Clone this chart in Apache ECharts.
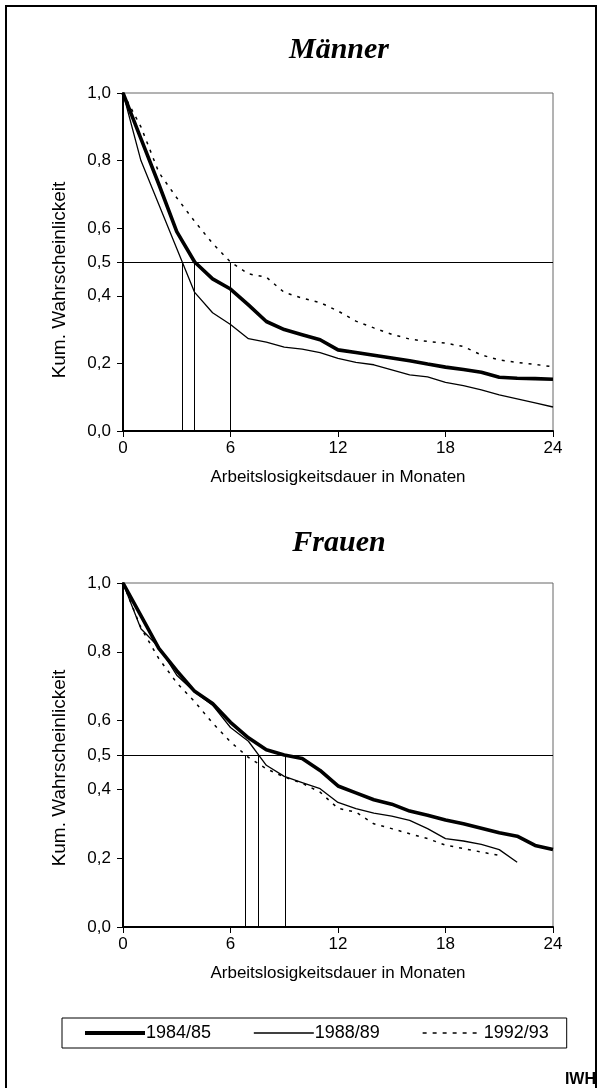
<!DOCTYPE html>
<html>
<head>
<meta charset="utf-8">
<script src="https://cdn.jsdelivr.net/npm/echarts@6/dist/echarts.min.js"></script>
<style>
html,body{margin:0;padding:0;background:#fff;}
#c{width:600px;height:1088px;}
</style>
</head>
<body>
<div id="c"></div>
<script>
// ---- data ----
const months = [0,1,2,3,4,5,6,7,8,9,10,11,12,13,14,15,16,17,18,19,20,21,22,23,24];
const seriesNames = ['1984/85','1988/89','1992/93'];
const yTickValues = [0,0.2,0.4,0.5,0.6,0.8,1.0];
const xTickLabels = [0,6,12,18,24];

const maenner8485 = [1.0,0.865,0.73,0.59,0.50,0.45,0.42,0.373,0.324,0.30,0.285,0.27,0.24,0.232,0.224,0.216,0.208,0.198,0.189,0.182,0.174,0.159,0.156,0.155,0.153];
const maenner8889 = [1.0,0.80,0.67,0.54,0.41,0.35,0.315,0.273,0.263,0.248,0.242,0.232,0.215,0.203,0.196,0.181,0.166,0.160,0.144,0.134,0.122,0.107,0.095,0.083,0.071];
const maenner9293 = [1.0,0.90,0.765,0.69,0.62,0.555,0.50,0.465,0.455,0.41,0.393,0.38,0.355,0.325,0.305,0.286,0.272,0.265,0.26,0.25,0.225,0.21,0.203,0.197,0.19];
const maennerMedian = [3.98,3.31,5.98];

const frauen8485 = [1.0,0.905,0.81,0.745,0.685,0.65,0.595,0.55,0.515,0.50,0.49,0.455,0.41,0.39,0.37,0.357,0.337,0.325,0.311,0.30,0.287,0.274,0.264,0.237,0.225];
const frauen8889 = [1.0,0.867,0.814,0.732,0.683,0.645,0.58,0.54,0.47,0.438,0.42,0.402,0.362,0.344,0.331,0.322,0.31,0.286,0.257,0.25,0.24,0.225,0.188];
const frauen9293 = [1.0,0.87,0.78,0.71,0.655,0.593,0.538,0.493,0.46,0.436,0.418,0.392,0.345,0.334,0.30,0.286,0.271,0.257,0.238,0.228,0.218,0.208];
const frauenMedian = [9.05,7.53,6.82];

const refLevel = 0.5;

// ---- helpers ----
const pairs = (vals) => vals.map((v,i) => [months[i], v]);
const fmt = (v) => v.toFixed(1).replace('.', ',');
const styles = [
  {width:3.6, type:'solid'},
  {width:1.3, type:'solid'},
  {width:1.5, type:[3,6]}
];
const legendStyles = [
  {width:4, type:'solid'},
  {width:1.5, type:'solid'},
  {width:1.5, type:[4,6]}
];
const FONT = 'Liberation Sans, Arial, sans-serif';

function makeAxes(gi){
  return {
    x: {
      type:'value', gridIndex:gi, min:0, max:24, interval:6,
      name:'Arbeitslosigkeitsdauer in Monaten', nameLocation:'middle', nameGap:38,
      nameTextStyle:{fontFamily:FONT, fontSize:17, color:'#000'},
      axisLine:{lineStyle:{color:'#000', width:2}},
      axisTick:{show:true, inside:false, length:6, lineStyle:{color:'#000', width:1}},
      axisLabel:{color:'#000', fontFamily:FONT, fontSize:17, margin:9,
        customValues:xTickLabels},
      splitLine:{show:false}
    },
    y: {
      type:'value', gridIndex:gi, min:0, max:1, interval:0.1,
      axisLine:{show:true, lineStyle:{color:'#000', width:2}},
      axisTick:{show:true, inside:false, length:6, lineStyle:{color:'#000', width:1},
        customValues:yTickValues},
      axisLabel:{color:'#000', fontFamily:FONT, fontSize:17, margin:12,
        customValues:yTickValues, formatter:(v)=>fmt(v)},
      splitLine:{show:false}
    }
  };
}
const a0 = makeAxes(0), a1 = makeAxes(1);

function makeSeries(gi, arrs, medians){
  const out = [];
  arrs.forEach((arr, k) => {
    out.push({
      name: seriesNames[k], type:'line', xAxisIndex:gi, yAxisIndex:gi,
      data: pairs(arr), symbol:'none', smooth:false, z:5,
      lineStyle:{color:'#000', width:styles[k].width, type:styles[k].type},
      itemStyle:{color:'#000'},
      emphasis:{disabled:true},
      animation:false
    });
  });
  out[0].markLine = {
    silent:true, symbol:'none', animation:false, z:2,
    label:{show:false},
    lineStyle:{color:'#000', width:1, type:'solid'},
    data: [
      {yAxis: refLevel}
    ].concat(medians.map(m => [{coord:[m,0]},{coord:[m,refLevel]}]))
  };
  return out;
}

const chart = echarts.init(document.getElementById('c'), null, {renderer:'canvas'});
chart.setOption({
  animation:false,
  backgroundColor:'#fff',
  grid:[
    {left:123, right:47, top:93, height:338, show:true, borderColor:'#666', borderWidth:1, backgroundColor:'transparent'},
    {left:123, right:47, top:583, height:344, show:true, borderColor:'#666', borderWidth:1, backgroundColor:'transparent'}
  ],
  xAxis:[a0.x, a1.x],
  yAxis:[a0.y, a1.y],
  legend:{
    data:seriesNames.map((n,k)=>({name:n, lineStyle:{color:'#000', width:legendStyles[k].width, type:legendStyles[k].type}})),
    left:62, top:1018,
    itemWidth:60, itemHeight:12, itemGap:42,
    borderColor:'#000', borderWidth:1, padding:[6,18,6,21],
    itemStyle:{opacity:0},
    textStyle:{fontFamily:FONT, fontSize:18, color:'#000', padding:[0,0,0,-4]},
    selectedMode:false
  },
  series: makeSeries(0,[maenner8485,maenner8889,maenner9293],maennerMedian)
    .concat(makeSeries(1,[frauen8485,frauen8889,frauen9293],frauenMedian)),
  graphic:[
    {type:'rect', shape:{x:6,y:6,width:590,height:1100}, style:{fill:'none', stroke:'#000', lineWidth:2}, silent:true},
    {type:'text', x:339, y:50, style:{text:'Männer', font:'italic bold 30px "Liberation Serif", "Times New Roman", serif', fill:'#000', textAlign:'center', textVerticalAlign:'middle'}},
    {type:'text', x:339, y:543, style:{text:'Frauen', font:'italic bold 30px "Liberation Serif", "Times New Roman", serif', fill:'#000', textAlign:'center', textVerticalAlign:'middle'}},
    {type:'text', x:60, y:280, rotation:Math.PI/2, style:{text:'Kum. Wahrscheinlickeit', font:'19px "Liberation Sans", Arial, sans-serif', fill:'#000', textAlign:'center', textVerticalAlign:'middle'}},
    {type:'text', x:60, y:768, rotation:Math.PI/2, style:{text:'Kum. Wahrscheinlickeit', font:'19px "Liberation Sans", Arial, sans-serif', fill:'#000', textAlign:'center', textVerticalAlign:'middle'}},
    {type:'text', x:596, y:1080, style:{text:'IWH', font:'bold 16px "Liberation Sans", Arial, sans-serif', fill:'#000', textAlign:'right', textVerticalAlign:'middle'}}
  ]
});
</script>
</body>
</html>
